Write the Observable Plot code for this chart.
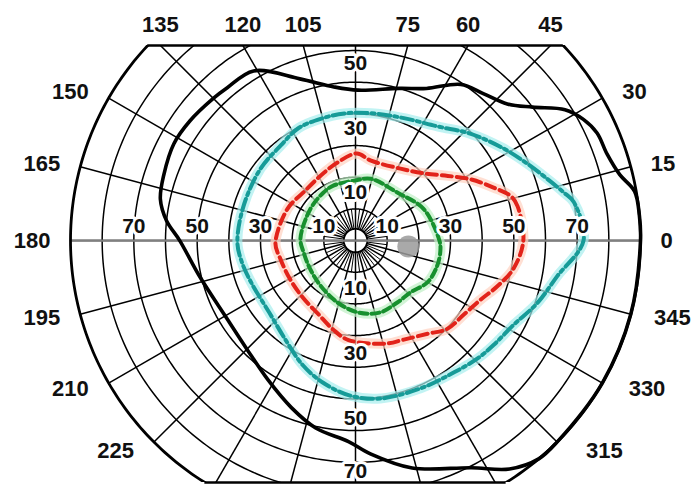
<!DOCTYPE html>
<html><head><meta charset="utf-8">
<script src="https://cdn.jsdelivr.net/npm/d3@7"></script>
<script src="https://cdn.jsdelivr.net/npm/@observablehq/plot@0.6"></script>
<style>html,body{margin:0;padding:0;background:#fff;}</style>
</head><body><div id="chart"></div>
<script>
// ---- grid definition (degrees of visual field) ----
const ringRadii = [10, 20, 30, 40, 50, 60, 70, 80];
const outerRadius = 90;
const fixationRadius = 3.7;
const spokeAngles = d3.range(0, 360, 15);
const centerSpokeAngles = d3.range(7.5, 360, 15);
const topCut = 61.6;      // chart cut off at top
const bottomCut = -76.4;  // chart cut off at bottom

// ---- labels ----
const angleLabels = [0, 15, 30, 45, 60, 75, 105, 120, 135, 150, 165, 180, 195, 210, 225, 315, 330, 345];
const horizontalLabelValues = [-70, -50, -30, -10, 10, 30, 50, 70];
const verticalTopLabels = [10, 30, 50];
const verticalBottomLabels = [10, 30, 50, 70];

// ---- isopters (angle in degrees, eccentricity in degrees) ----
const blackAngles = [0, 5, 10, 14, 19, 24, 28, 32, 37, 42, 49, 56, 65, 74, 89, 98, 109, 121, 130, 135, 144, 152, 161, 168, 174, 180, 193, 211, 225, 238, 249, 258, 268, 274, 284, 297, 304, 310, 315, 330, 345];
const blackRadii  = [90, 90, 89.5, 86, 84, 83.5, 81.5, 78, 70, 64.5, 61.5, 59.5, 53, 50, 47.5, 49, 54, 62.5, 63, 63.5, 64.5, 65, 64, 63, 60, 55.5, 50.5, 47.5, 48.5, 52, 56.5, 60.5, 63.5, 67.5, 74, 80.5, 87, 90, 90, 90, 90];

const cyanAngles = [0, 10, 13, 18, 24, 32, 43, 54, 69, 83, 95, 106, 117, 128, 143, 163, 181, 191, 202, 220, 236, 247, 257, 268, 279, 294, 307, 316, 323, 332, 341, 350];
const cyanRadii  = [72, 70, 67.5, 63.5, 59.5, 55, 49.5, 44.5, 41.5, 40.5, 40.3, 40, 39.8, 38.2, 37.6, 37, 37.3, 36.5, 35.5, 35.5, 38.7, 42.7, 46, 49, 50.5, 51, 52, 53.6, 54.7, 56.6, 60.7, 64.7];

const redAngles = [0, 12, 16, 21, 28, 35, 45, 58, 79, 89, 103, 118, 137, 155, 182, 194, 210, 227, 243, 256, 266, 287, 296, 308, 316, 326, 335, 342, 350];
const redRadii  = [53, 52.3, 51, 46.7, 41.2, 35.6, 30.1, 26.8, 25.7, 27.5, 25.3, 23.3, 22.4, 23.7, 25.3, 24.4, 24, 24.5, 26, 29, 31.5, 34, 34.8, 37.3, 40.2, 41.5, 43.8, 47, 50.7];

const greenAngles = [0, 25, 49, 76, 90, 112, 124, 145, 178, 193, 212, 232, 254, 272, 289, 304, 317, 330, 343, 353];
const greenRadii  = [26.5, 23.7, 20.1, 20.1, 19, 18.7, 18.2, 17.4, 17.4, 16.8, 16.9, 18, 20.4, 22.7, 24, 23.6, 23.9, 26.3, 27, 27];

// blind spot (centre angle/eccentricity)
const blindSpot = [{angle: -6.5, ecc: 16.8}];

// ---- helpers ----
const rad = a => a * Math.PI / 180;
const px = (a, r) => r * Math.cos(rad(a));
const py = (a, r) => r * Math.sin(rad(a));
const contour = (angles, radii) => angles.map((a, i) => ({x: px(a, radii[i]), y: py(a, radii[i])}));
const circle = (r, key) => d3.range(0, 360, 1).map(a => ({x: px(a, r), y: py(a, r), ring: key ?? r}));

const K = 285 / 90; // px per degree
const ringPts = ringRadii.flatMap(r => circle(r));
const outerPts = circle(outerRadius);
const fixPts = circle(fixationRadius);

const font = "Liberation Sans, Arial, Helvetica, sans-serif";

const topLabels = angleLabels.filter(a => outerRadius * Math.sin(rad(a)) > topCut);
const sideLabels = angleLabels.filter(a => outerRadius * Math.sin(rad(a)) <= topCut);
const leftLabels = sideLabels.filter(a => Math.cos(rad(a)) < -1e-9);
const rightLabels = sideLabels.filter(a => Math.cos(rad(a)) >= -1e-9);
const sideOffset = 20 / K;
const sideY = a => (outerRadius + 4) * Math.sin(rad(a));
const sideXRight = a => px(a, outerRadius) + sideOffset + (Math.sin(rad(a)) < 0 ? -Math.sin(rad(a)) * 4 : 0);

const halfTop = Math.sqrt(outerRadius ** 2 - topCut ** 2);
const halfBottom = Math.sqrt(outerRadius ** 2 - bottomCut ** 2);
const vertPos = d => d * 1.02 + 5;

const textStyle = {fontFamily: font, fontWeight: "bold", fill: "#111"};
const haloText = {...textStyle, stroke: "white", strokeWidth: 6, paintOrder: "stroke"};

const isopter = (pts, color, halo, dash, width) => [
  Plot.line(pts, {x: "x", y: "y", curve: "catmull-rom-closed", stroke: halo, strokeWidth: 10, strokeOpacity: 0.7, clip: true}),
  Plot.line(pts, {x: "x", y: "y", curve: "catmull-rom-closed", stroke: color, strokeWidth: width, strokeDasharray: dash, clip: true})
];

const chart = Plot.plot({
  width: 698,
  height: 485,
  marginTop: 45,
  marginBottom: 3,
  marginLeft: 63.67,
  marginRight: 51.67,
  x: {domain: [-92, 92], axis: null},
  y: {domain: [bottomCut, topCut], axis: null},
  style: {background: "#fff", overflow: "visible"},
  marks: [
    // rings
    Plot.line(ringPts, {x: "x", y: "y", z: "ring", curve: "linear-closed", stroke: "#000", strokeWidth: 1.5, clip: true}),
    Plot.line(fixPts, {x: "x", y: "y", curve: "linear-closed", stroke: "#000", strokeWidth: 1.8, clip: true}),
    // spokes
    Plot.link(spokeAngles, {
      x1: a => px(a, a % 90 === 0 ? 0 : fixationRadius), y1: a => py(a, a % 90 === 0 ? 0 : fixationRadius),
      x2: a => px(a, outerRadius), y2: a => py(a, outerRadius),
      stroke: "#000", strokeWidth: 1.5, clip: true
    }),
    Plot.link(centerSpokeAngles, {
      x1: a => px(a, fixationRadius), y1: a => py(a, fixationRadius),
      x2: a => px(a, 10), y2: a => py(a, 10),
      stroke: "#000", strokeWidth: 1, clip: true
    }),
    // horizontal 0-180 meridian
    Plot.ruleY([0], {x1: -outerRadius, x2: outerRadius, stroke: "#808080", strokeWidth: 2.2}),
    // outer border
    Plot.line(outerPts, {x: "x", y: "y", curve: "linear-closed", stroke: "#000", strokeWidth: 2.8, clip: true}),
    Plot.ruleY([topCut], {x1: -halfTop, x2: halfTop, stroke: "#000", strokeWidth: 2.6}),
    Plot.ruleY([bottomCut], {x1: -halfBottom, x2: halfBottom, stroke: "#000", strokeWidth: 2.6}),
    // blind spot
    Plot.dot(blindSpot, {x: d => px(d.angle, d.ecc), y: d => py(d.angle, d.ecc), r: 11, fill: "#9a9a9a", fillOpacity: 0.85}),
    // isopters
    ...isopter(contour(cyanAngles, cyanRadii), "#169b98", "#a6eeee", "12,4,3,4", 4),
    ...isopter(contour(redAngles, redRadii), "#e2231a", "#ffd2c0", "10,5", 4),
    ...isopter(contour(greenAngles, greenRadii), "#17902e", "#bff0c4", "8,4", 4),
    Plot.line(contour(blackAngles, blackRadii), {x: "x", y: "y", curve: "catmull-rom-closed", stroke: "#000", strokeWidth: 3.6, clip: true}),
    // eccentricity labels
    Plot.text(horizontalLabelValues, {x: d => d, y: 0, dy: -14, text: d => String(Math.abs(d)), fontSize: 21, ...haloText}),
    Plot.text(verticalTopLabels, {x: 0, y: d => vertPos(d), text: d => String(d), fontSize: 21, ...haloText}),
    Plot.text(verticalBottomLabels, {x: 0, y: d => Math.max(-vertPos(d), bottomCut + 3.6), text: d => String(d), fontSize: 21, ...haloText}),
    // meridian labels
    Plot.text(topLabels, {x: a => topCut / Math.tan(rad(a)), y: topCut, dy: -21, text: a => String(a), fontSize: 22, ...textStyle}),
    Plot.text(leftLabels, {x: a => px(a, outerRadius) - sideOffset, y: sideY, text: a => String(a), textAnchor: "end", fontSize: 22, ...textStyle}),
    Plot.text(rightLabels, {x: sideXRight, y: sideY, text: a => String(a), textAnchor: "start", fontSize: 22, ...textStyle})
  ]
});
document.getElementById("chart").appendChild(chart);
</script>
</body></html>
